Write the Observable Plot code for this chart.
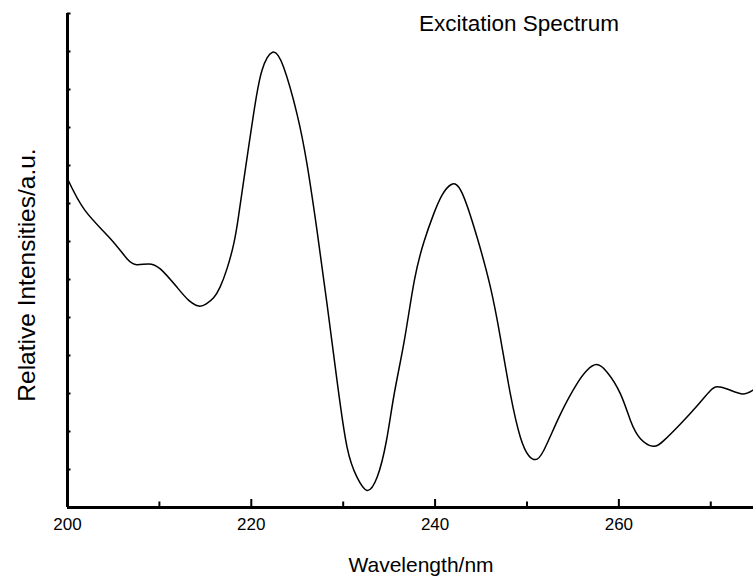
<!DOCTYPE html>
<html><head><meta charset="utf-8">
<script src="https://cdn.jsdelivr.net/npm/d3@7"></script>
<script src="https://cdn.jsdelivr.net/npm/@observablehq/plot@0.6"></script>
<style>
body{margin:0;background:#fff}
svg{font-family:"Liberation Sans", Arial, sans-serif}
</style>
</head><body><div id="chart"></div>
<script>
// Data (arbitrary intensity units: one unit = one y tick interval)
const wavelength = [200.0, 201.9, 204.65, 206.5, 207.55, 208.8, 210.1, 211.9, 213.2, 214.3, 215.1, 215.9, 216.6,
  217.35, 218.1, 218.6, 219.2, 220.25, 221.16, 222.32, 223.51, 224.97, 226.06, 227.15, 228.24, 229.33,
  230.42, 231.5, 232.6, 233.7, 234.7, 235.56, 236.65, 237.74, 238.8, 239.84, 240.76, 241.77, 242.93, 244.57,
  246.02, 247.1, 248.19, 249.28, 250.18, 250.91, 251.82, 253.63, 255.45, 256.54, 257.55, 258.72, 260.17,
  261.26, 262.35, 263.73, 264.88, 266.7, 268.52, 269.97, 270.69, 271.78, 273.41, 274.65];
const intensity = [8.65, 7.82, 7.08, 6.54, 6.39, 6.41, 6.28, 5.80, 5.45, 5.30, 5.36, 5.52, 5.80,
  6.28, 6.95, 7.65, 8.65, 10.36, 11.50, 11.98, 11.59, 10.36, 9.04, 7.29, 5.36, 3.34,
  1.59, 0.8, 0.45, 0.8, 1.75, 3.0, 4.39, 5.97, 7.0, 7.72, 8.22, 8.50, 8.28, 7.11,
  5.80, 4.48, 2.99, 1.85, 1.37, 1.26, 1.50, 2.45, 3.26, 3.61, 3.76, 3.56, 2.99,
  2.29, 1.81, 1.61, 1.76, 2.20, 2.68, 3.08, 3.18, 3.12, 2.99, 3.10];
const xMajorTicks = [200, 220, 240, 260];
const xMinorTicks = [210, 230, 250, 270];
const yTicks = [1, 2, 3, 4, 5, 6, 7, 8, 9, 10, 11, 12, 13];
const titleText = "Excitation Spectrum";
const xLabel = "Wavelength/nm";
const yLabel = "Relative Intensities/a.u.";

const xDomain = [200, 274.65];
const yDomain = [0, 13];
const data = wavelength.map((w, i) => ({w, v: intensity[i]}));

const W = 753, H = 576, mL = 67, mR = 0, mT = 13, mB = 69;
const pxX = (xDomain[1] - xDomain[0]) / (W - mL - mR);
const pxY = (yDomain[1] - yDomain[0]) / (H - mT - mB);

const chart = Plot.plot({
  width: W, height: H,
  marginLeft: mL, marginRight: mR, marginTop: mT, marginBottom: mB,
  x: {domain: xDomain, label: null},
  y: {domain: yDomain, axis: null},
  marks: [
    Plot.axisX(xMajorTicks, {tickSize: 0, tickPadding: 10, fontSize: 17, fill: "#000", stroke: null, label: null}),
    Plot.ruleX(xMajorTicks, {y1: 0, y2: 8 * pxY, stroke: "#000", strokeWidth: 2}),
    Plot.ruleX(xMinorTicks, {y1: 0, y2: 5.5 * pxY, stroke: "#000", strokeWidth: 2}),
    Plot.ruleY(yTicks, {x1: xDomain[0], x2: xDomain[0] + 3.5 * pxX, stroke: "#000", strokeWidth: 2}),
    Plot.ruleY([0], {x1: xDomain[0], x2: xDomain[1], stroke: "#000", strokeWidth: 3}),
    Plot.ruleX([200], {y1: 0, y2: 13, stroke: "#000", strokeWidth: 3}),
    Plot.line(data, {x: "w", y: "v", curve: "natural", stroke: "#000", strokeWidth: 1.5})
  ]
});

const svg = d3.select(chart);
svg.append("text").attr("x", 519).attr("y", 31).attr("text-anchor", "middle")
  .attr("font-size", 22.5).attr("fill", "#000").text(titleText);
svg.append("text").attr("x", 421).attr("y", 572).attr("text-anchor", "middle")
  .attr("font-size", 21).attr("fill", "#000").text(xLabel);
svg.append("text").attr("transform", "translate(35,275) rotate(-90)").attr("text-anchor", "middle")
  .attr("font-size", 24.5).attr("fill", "#000").text(yLabel);

document.getElementById("chart").appendChild(chart);
</script>
</body></html>
